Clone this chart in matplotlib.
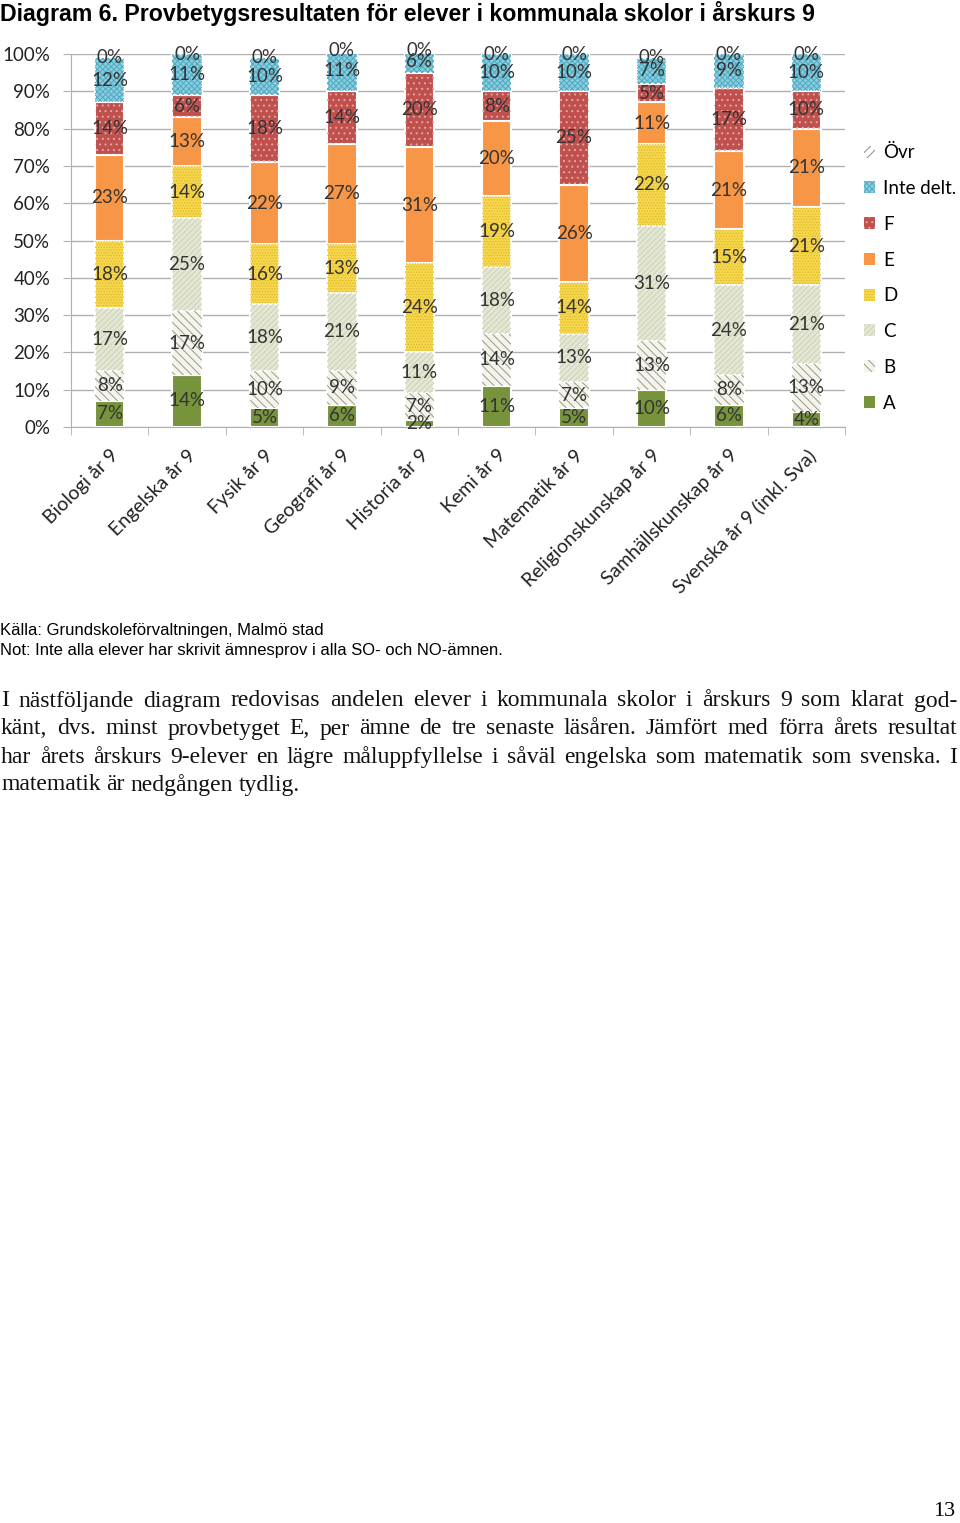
import matplotlib
matplotlib.use("Agg")
import matplotlib.pyplot as plt
from matplotlib.patches import Patch
import numpy as np

categories = ["Biologi år 9", "Engelska år 9", "Fysik år 9", "Geografi år 9", "Historia år 9",
              "Kemi år 9", "Matematik år 9", "Religionskunskap år 9", "Samhällskunskap år 9",
              "Svenska år 9 (inkl. Sva)"]
series_names = ["A", "B", "C", "D", "E", "F", "Inte delt.", "Övr"]
A = [7, 14, 5, 6, 2, 11, 5, 10, 6, 4]
B = [8, 17, 10, 9, 7, 14, 7, 13, 8, 13]
C = [17, 25, 18, 21, 11, 18, 13, 31, 24, 21]
D = [18, 14, 16, 13, 24, 19, 14, 22, 15, 21]
E = [23, 13, 22, 27, 31, 20, 26, 11, 21, 21]
F = [14, 6, 18, 14, 20, 8, 25, 5, 17, 10]
Inte = [12, 11, 10, 11, 6, 10, 10, 7, 9, 10]
Ovr = [0, 0, 0, 0, 0, 0, 0, 0, 0, 0]
yticks = [0, 10, 20, 30, 40, 50, 60, 70, 80, 90, 100]

series = [A, B, C, D, E, F, Inte, Ovr]
face = ["#77933C", "#F4F4EC", "#E3E7D3", "#F6D84E", "#F79646", "#C0504D", "#8ECBDB", "#FFFFFF"]
hatch = [None, "\\\\\\\\", "//////", "......", None, "...", "xxxxxx", "////"]
hcol = [None, "#9A9A86", "#CCD2B8", "#E2B92A", None, "#E2A9A7", "#4BACC6", "#8C8C8C"]

W, H = 960, 1523
fig = plt.figure(figsize=(W / 100, H / 100), dpi=100)
plt.rcParams['hatch.linewidth'] = 0.7

ax = fig.add_axes([71 / W, 1 - 427 / H, (845 - 71) / W, (427 - 54) / H])
x = np.arange(len(categories))
bottom = np.zeros(len(categories))
lab_font = "Lato"
for i, (vals, name) in enumerate(zip(series, series_names)):
    v = np.array(vals, dtype=float) / 100.0
    ax.bar(x, v, 0.38, bottom=bottom, color=face[i], edgecolor="white", linewidth=1.5, zorder=3)
    if hatch[i] is not None:
        ax.bar(x, v, 0.38, bottom=bottom, fill=False, hatch=hatch[i], edgecolor=hcol[i],
               linewidth=0, zorder=4)
    for xi, (b, vv, raw) in enumerate(zip(bottom, v, vals)):
        ax.text(xi, b + vv / 2, f"{raw}%", ha="center", va="center", fontsize=13.5,
                color="#333333", family=lab_font, zorder=6)
    bottom = bottom + v

ax.set_xlim(-0.5, len(categories) - 0.5)
ax.set_ylim(0, 1)
ax.set_yticks([t / 100 for t in yticks])
ax.set_yticklabels([f"{t}%" for t in yticks], fontsize=13.5, family=lab_font, color="#222222")
ax.yaxis.grid(True, color="#B0B0B0", linewidth=1.0, zorder=0)
ax.set_axisbelow(True)
for s in ["top", "right"]:
    ax.spines[s].set_visible(False)
ax.spines["left"].set_color("#B0B0B0")
ax.spines["bottom"].set_color("#B0B0B0")
ax.tick_params(axis="y", length=6, color="#B0B0B0", pad=9)
ax.set_xticks(x)
ax.set_xticklabels(categories, rotation=45, ha="right", rotation_mode="anchor",
                   fontsize=14, family=lab_font, color="#222222")
ax.tick_params(axis="x", length=0, pad=14)
ax.set_xticks(np.arange(-0.5, len(categories), 1.0), minor=True)
ax.tick_params(axis="x", which="minor", length=6, color="#B0B0B0")

handles = []
for i in reversed(range(len(series_names))):
    handles.append(Patch(facecolor=face[i], hatch=hatch[i], edgecolor=hcol[i] if hcol[i] else face[i],
                         linewidth=0, label=series_names[i]))
fig.legend(handles=handles, loc="upper left", bbox_to_anchor=(851 / W, 1 - 131 / H),
           frameon=False, prop={"family": lab_font, "size": 13.5},
           handlelength=0.6, handleheight=0.6, handletextpad=0.4, labelspacing=1.0,
           borderaxespad=0.3)

fig.text(0, 1 - 13 / H, "Diagram 6. Provbetygsresultaten för elever i kommunala skolor i årskurs 9",
         ha="left", va="center", fontsize=16.7, fontweight="bold", family="Liberation Sans")
fig.text(0, 1 - 631 / H, "Källa: Grundskoleförvaltningen, Malmö stad", ha="left", va="center",
         fontsize=12, family="Liberation Sans")
fig.text(0, 1 - 650 / H, "Not: Inte alla elever har skrivit ämnesprov i alla SO- och NO-ämnen.",
         ha="left", va="center", fontsize=12, family="Liberation Sans")

body = [
    ("I nästföljande diagram redovisas andelen elever i kommunala skolor i årskurs 9 som klarat god-", True),
    ("känt, dvs. minst provbetyget E, per ämne de tre senaste läsåren. Jämfört med förra årets resultat", True),
    ("har årets årskurs 9-elever en lägre måluppfyllelse i såväl engelska som matematik som svenska. I", True),
    ("matematik är nedgången tydlig.", False),
]
ys = [701, 729, 757, 785]
bfs = 17
fig.canvas.draw()
renderer = fig.canvas.get_renderer()
left_px, right_px = 1, 957
t1 = fig.text(0, 0, "a a", fontsize=bfs, family="Liberation Serif")
t2 = fig.text(0, 0, "aa", fontsize=bfs, family="Liberation Serif")
sp = t1.get_window_extent(renderer).width - t2.get_window_extent(renderer).width
t1.remove()
t2.remove()
for (line, just), yp in zip(body, ys):
    words = line.split(" ")
    texts = [fig.text(0, 1 - yp / H, w, ha="left", va="center", fontsize=bfs,
                      family="Liberation Serif", color="#111111") for w in words]
    widths = [t.get_window_extent(renderer).width for t in texts]
    if just and len(words) > 1:
        gap = (right_px - left_px - sum(widths)) / (len(words) - 1)
    else:
        gap = sp
    xp = left_px
    for t, w in zip(texts, widths):
        t.set_x(xp / W)
        xp += w + gap

fig.text(955 / W, 1 - 1512 / H, "13", ha="right", va="center", fontsize=16, family="Liberation Serif")

fig.savefig("out.png", dpi=100)
